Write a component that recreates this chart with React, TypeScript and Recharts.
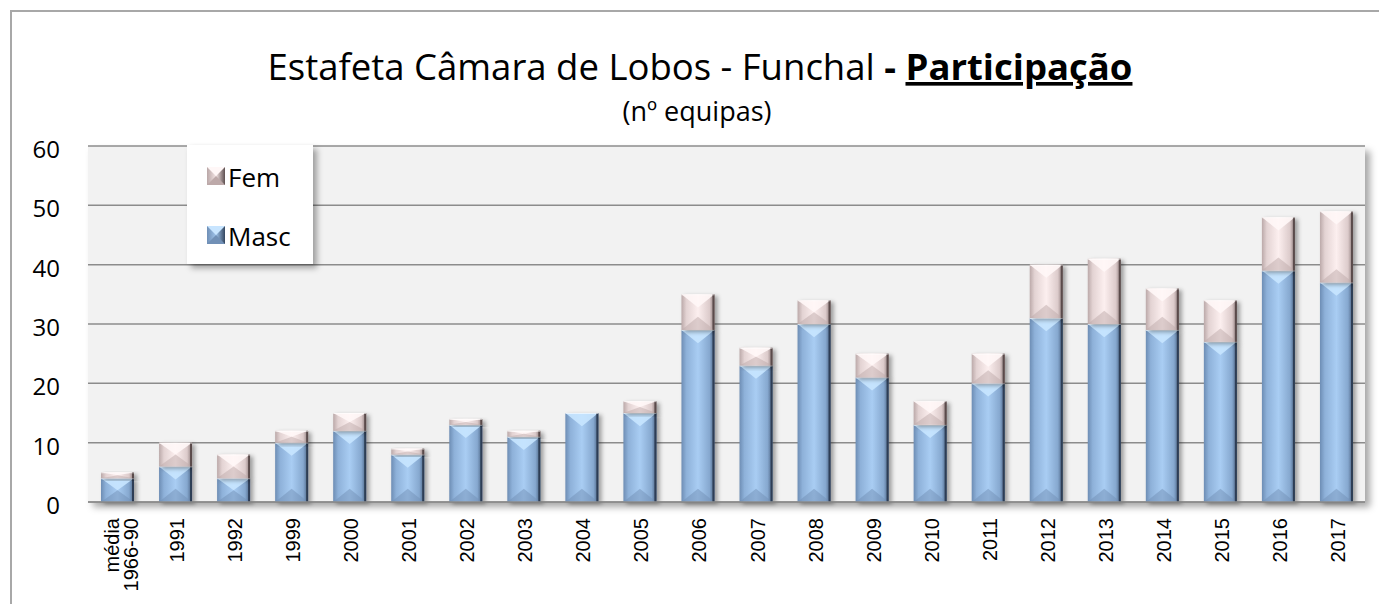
import React from 'react';
import { BarChart, Bar, XAxis, YAxis, CartesianGrid, Legend } from 'recharts';

const categories = ['média\n1966-90', '1991', '1992', '1999', '2000', '2001', '2002', '2003', '2004', '2005', '2006', '2007', '2008', '2009', '2010', '2011', '2012', '2013', '2014', '2015', '2016', '2017'];
const masc = [4, 6, 4, 10, 12, 8, 13, 11, 15, 15, 29, 23, 30, 21, 13, 20, 31, 30, 29, 27, 39, 37];
const fem = [1, 4, 4, 2, 3, 1, 1, 1, 0, 2, 6, 3, 4, 4, 4, 5, 9, 11, 7, 7, 9, 12];
const yTicks = [0, 10, 20, 30, 40, 50, 60];

const data = categories.map((c, i) => ({ cat: c, Masc: masc[i], Fem: fem[i] }));

const W = 1379;
const H = 604;
const PLOT = { left: 88, top: 146, right: 1365, bottom: 502 };
const FONT = '"Open Sans", Lato, sans-serif';

type Palette = { grad: string; top: string; bottom: string; edge: string };
const mascPal: Palette = { grad: 'url(#gMasc)', top: '#c8e5ff', bottom: '#7190b6', edge: '#2e3e54' };
const femPal: Palette = { grad: 'url(#gFem)', top: '#fff7f7', bottom: '#bda9a9', edge: '#5a4b4b' };

// bevelled bar segment, roughly the Excel "cool slant" look
const bevel = (pal: Palette) => (props: any) => {
  const { x, y, width, height } = props;
  if (!height || height <= 0) return <g />;
  const d = Math.min(width * 0.4, height / 2);
  return (
    <g filter="url(#barShadow)">
      <rect x={x} y={y} width={width} height={height} fill={pal.grad} />
      <polygon points={`${x},${y} ${x + width},${y} ${x + width / 2},${y + d}`} fill={pal.top} opacity={0.9} />
      <polygon points={`${x},${y + height} ${x + width},${y + height} ${x + width / 2},${y + height - d}`} fill={pal.bottom} opacity={0.5} />
      <line x1={x + width - 1} y1={y} x2={x + width - 1} y2={y + height} stroke={pal.edge} strokeWidth={2} />
      <line x1={x} y1={y + 0.5} x2={x + width} y2={y + 0.5} stroke="#ffffff" strokeOpacity={0.6} strokeWidth={1} />
    </g>
  );
};

const XTick = (props: any) => {
  const { x, payload } = props;
  const lines = String(payload.value).split('\n');
  const base = lines.length > 1 ? [2, 21] : [9];
  return (
    <g transform={`translate(${x},${PLOT.bottom + 16})`}>
      <text transform="rotate(-90)" textAnchor="end" fontFamily='"Liberation Sans", Arial, sans-serif' fontSize={20} fill="#000">
        {lines.map((l, i) => (
          <tspan key={i} x={0} y={base[i]}>{l}</tspan>
        ))}
      </text>
    </g>
  );
};

const YTick = (props: any) => {
  const { y, payload } = props;
  return (
    <text x={60} y={y + 12} textAnchor="end" fontFamily={FONT} fontSize={24} fill="#000">
      {payload.value}
    </text>
  );
};

const Icon = ({ x, y, id, stops, pal }: { x: number; y: number; id: string; stops: string[]; pal: Palette }) => (
  <g>
    <defs>
      <linearGradient id={id} x1="0" x2="1" y1="0" y2="0">
        <stop offset="0%" stopColor={stops[0]} />
        <stop offset="50%" stopColor={stops[1]} />
        <stop offset="100%" stopColor={stops[2]} />
      </linearGradient>
    </defs>
    <rect x={x} y={y} width={18} height={18} fill={`url(#${id})`} />
    <polygon points={`${x},${y} ${x + 18},${y} ${x + 9},${y + 9}`} fill={pal.top} />
    <polygon points={`${x},${y + 18} ${x + 18},${y + 18} ${x + 9},${y + 9}`} fill={pal.bottom} />
  </g>
);

const LegendBox = () => (
  <div style={{ width: 126, height: 119, background: '#fff', boxShadow: '4px 4px 6px rgba(0,0,0,0.35)' }}>
    <svg width={126} height={119} style={{ display: 'block' }}>
      <Icon x={20} y={22} id="lgF" stops={['#b9a7a7', '#f3e4e4', '#5e5050']} pal={femPal} />
      <text x={41} y={42} fontFamily={FONT} fontSize={26} fill="#000">Fem</text>
      <Icon x={20} y={81} id="lgM" stops={['#6f8fb6', '#9fc3ea', '#34465e']} pal={mascPal} />
      <text x={41} y={101} fontFamily={FONT} fontSize={26} fill="#000">Masc</text>
    </svg>
  </div>
);

export default function App() {
  return (
    <div style={{ position: 'absolute', left: 0, top: 0, width: W, height: H, background: '#fff', overflow: 'hidden', fontFamily: FONT }}>
      <div style={{ position: 'absolute', left: 10, top: 10, width: 1400, height: 640, border: '2px solid #a8a8a8' }} />
      <div
        style={{
          position: 'absolute',
          left: PLOT.left,
          top: PLOT.top,
          width: PLOT.right - PLOT.left,
          height: PLOT.bottom - PLOT.top,
          background: '#f2f2f2',
          boxShadow: '5px 5px 7px rgba(0,0,0,0.35)',
        }}
      />
      <svg width={W} height={140} style={{ position: 'absolute', left: 0, top: 0 }}>
        <text x={700} y={80} textAnchor="middle" fontFamily={FONT} fontSize={36.5} fill="#000">
          Estafeta Câmara de Lobos - Funchal <tspan fontWeight="bold">- </tspan>
          <tspan fontWeight="bold" textDecoration="underline">Participação</tspan>
        </text>
        <text x={697} y={121} textAnchor="middle" fontFamily={FONT} fontSize={27} fill="#000">
          (nº equipas)
        </text>
      </svg>
      <div style={{ position: 'absolute', left: 0, top: 0 }}>
        <BarChart width={W} height={H} data={data} margin={{ top: PLOT.top, right: W - PLOT.right, bottom: 0, left: 10 }}>
          <defs>
            <linearGradient id="gMasc" x1="0" x2="1" y1="0" y2="0">
              <stop offset="0%" stopColor="#6d8db4" />
              <stop offset="15%" stopColor="#8eb1d9" />
              <stop offset="50%" stopColor="#a9cdf3" />
              <stop offset="85%" stopColor="#86a8cf" />
              <stop offset="100%" stopColor="#4a6282" />
            </linearGradient>
            <linearGradient id="gFem" x1="0" x2="1" y1="0" y2="0">
              <stop offset="0%" stopColor="#bba9a9" />
              <stop offset="15%" stopColor="#e3d3d3" />
              <stop offset="50%" stopColor="#fcefef" />
              <stop offset="85%" stopColor="#dccbcb" />
              <stop offset="100%" stopColor="#8a7878" />
            </linearGradient>
            <filter id="barShadow" x="-20%" y="-20%" width="150%" height="150%">
              <feDropShadow dx="3" dy="2" stdDeviation="2" floodColor="#000" floodOpacity="0.35" />
            </filter>
          </defs>
          <CartesianGrid horizontal vertical={false} stroke="#8c8c8c" strokeWidth={1.5} />
          <XAxis dataKey="cat" interval={0} height={H - PLOT.bottom} tick={<XTick />} tickLine={false} axisLine={{ stroke: '#8c8c8c', strokeWidth: 1.5 }} />
          <YAxis width={PLOT.left - 10} domain={[0, 60]} ticks={yTicks} tick={<YTick />} tickLine={false} axisLine={false} />
          <Legend
            layout="vertical"
            align="center"
            verticalAlign="middle"
            wrapperStyle={{ position: 'absolute', left: 187, top: 145, width: 126, height: 119 }}
            content={() => <LegendBox />}
          />
          <Bar dataKey="Masc" stackId="a" barSize={33} fill="#9dc3ea" shape={bevel(mascPal)} isAnimationActive={false} />
          <Bar dataKey="Fem" stackId="a" barSize={33} fill="#f3e4e4" shape={bevel(femPal)} isAnimationActive={false} />
        </BarChart>
      </div>
    </div>
  );
}
